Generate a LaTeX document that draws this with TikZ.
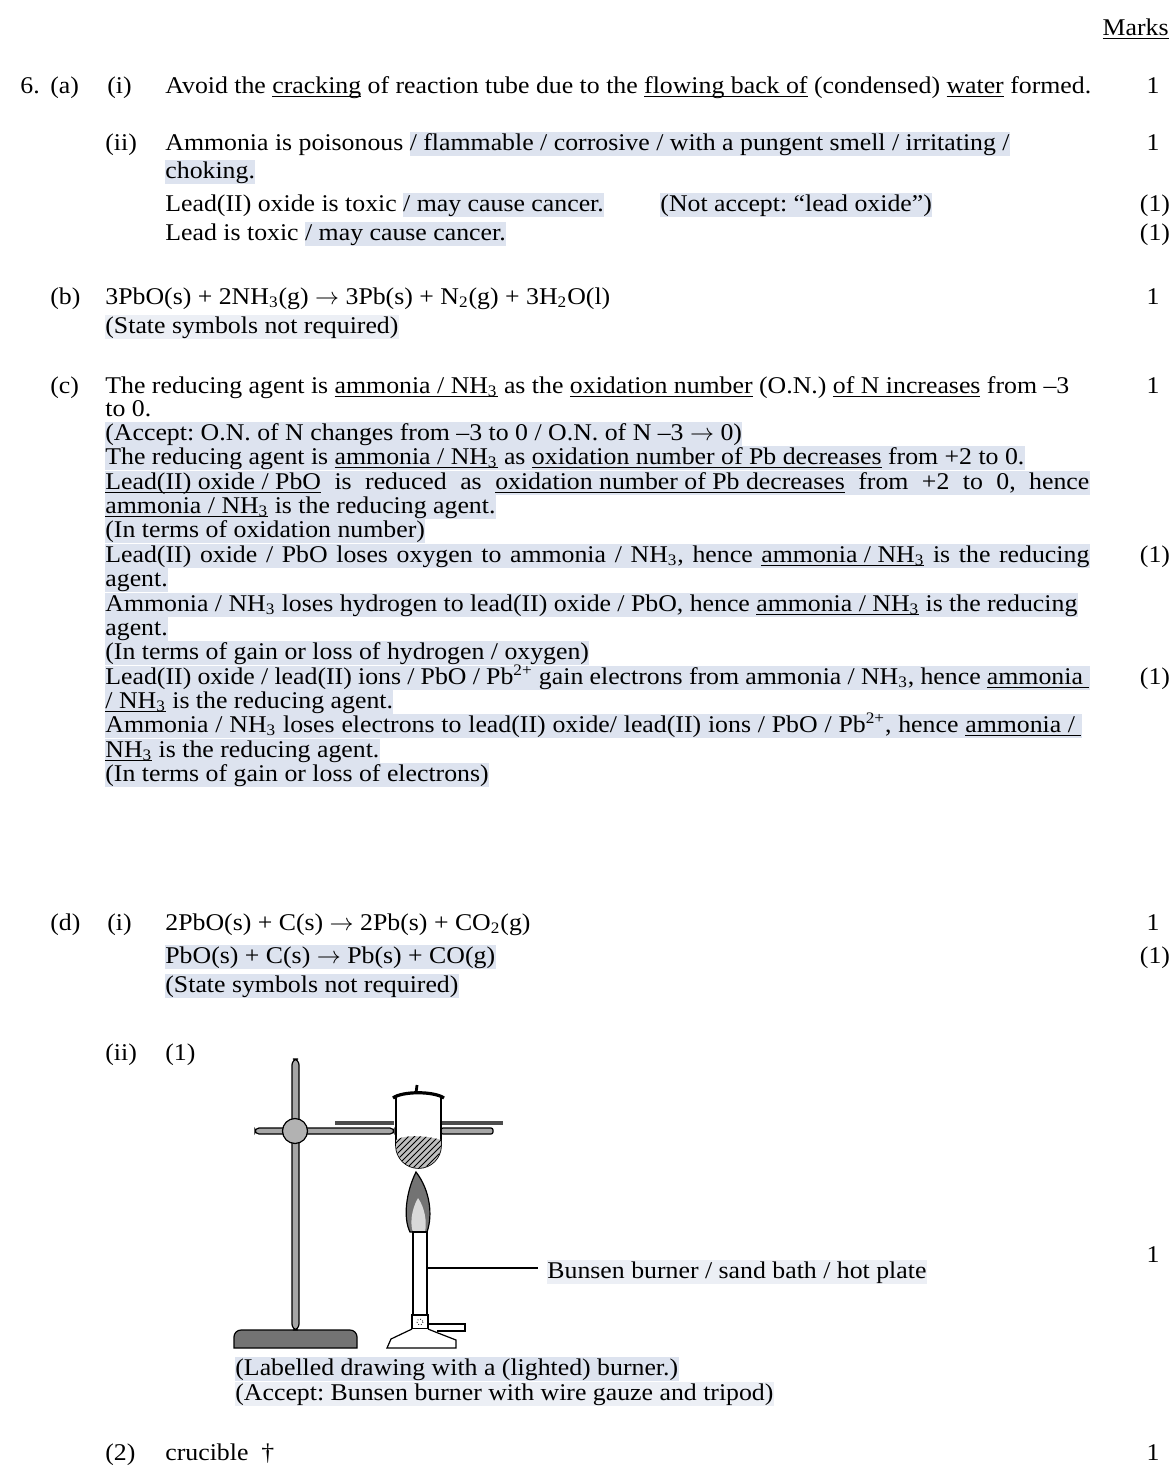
\documentclass[tikz,border=0pt]{standalone}
\usepackage{fontspec}
\setmainfont{Liberation Serif}[FakeStretch=1.075]
\usetikzlibrary{patterns}
\frenchspacing
\definecolor{hlc}{RGB}{221,227,239}
\definecolor{hlb}{RGB}{236,239,245}
\pgfdeclarelayer{bg}
\pgfsetlayers{bg,main}
\newcommand\fsz{\fontsize{12}{14}\selectfont}
\newcommand\hlx[1]{{\setlength{\fboxsep}{0pt}\colorbox{hlc}{\rule[-3pt]{0pt}{12pt}#1}}}
\newsavebox{\ulbox}
\newcommand\ul[1]{\sbox{\ulbox}{#1}\rlap{\rule[-2.2pt]{\wd\ulbox}{0.6pt}}\usebox{\ulbox}}
\newcommand\NHt{NH\textsubscript{3}}
\newcommand\rar{$\rightarrow$}
\newcommand\jl[1]{\makebox[492pt][s]{#1}}
\tikzset{
  tx/.style={anchor=base west, inner sep=0pt, font=\fsz},
  hx/.style={tx, text height=9pt, text depth=3pt},
  mk/.style={anchor=base, inner sep=0pt, font=\fsz},
  part/.style={draw=black, line width=0.6pt},
}
\begin{document}
\begin{tikzpicture}[x=0.5pt,y=-0.5pt]
\useasboundingbox (0,0) rectangle (1171,1467);
\begin{pgfonlayer}{bg}
\fill[white] (0,0) rectangle (1171,1467);
\end{pgfonlayer}

% header
\node[anchor=base east, inner sep=0pt, font=\fsz] (marks) at (1169,35) {\ul{Marks}};

% (a)
\node[tx] (q6) at (20,93) {6.};
\node[tx] (qa) at (50,93) {(a)};
\node[tx] (qai) at (107,93) {(i)};
\node[tx] (a1) at (165,93) {Avoid the \ul{cracking} of reaction tube due to the \ul{flowing back of} (condensed) \ul{water} formed.};
\node[mk] (m1) at (1153,93) {1};

\node[tx] (qaii) at (105,150) {(ii)};
\node[tx] (a2) at (165,150) {Ammonia is poisonous \hlx{/ flammable / corrosive / with a pungent smell / irritating /}};
\node[mk] (m2) at (1153,150) {1};
\node[hx] (a3) at (165,178) {choking.};
\node[tx] (a4) at (165,211) {Lead(II) oxide is toxic \hlx{/ may cause cancer.}};
\node[hx] (a5) at (660,211) {(Not accept: “lead oxide”)};
\node[mk] (m3) at (1155,211) {(1)};
\node[tx] (a6) at (165,240) {Lead is toxic \hlx{/ may cause cancer.}};
\node[mk] (m4) at (1155,240) {(1)};

% (b)
\node[tx] (qb) at (50,304) {(b)};
\node[tx] (b1) at (105,304) {3PbO(s) + 2\NHt(g) \rar\ 3Pb(s) + N\textsubscript{2}(g) + 3H\textsubscript{2}O(l)};
\node[mk] (m5) at (1153,304) {1};
\node[hx] (b2) at (105,333) {(State symbols not required)};

% (c)
\node[tx] (qc) at (50,393) {(c)};
\node[tx] (c1) at (105,393) {The reducing agent is \ul{ammonia / \NHt} as the \ul{oxidation number} (O.N.) \ul{of N increases} from –3};
\node[mk] (m6) at (1153,393) {1};
\node[tx] (c2) at (105,416) {to 0.};
\node[hx] (c3) at (105,440) {(Accept: O.N. of N changes from –3 to 0 / O.N. of N –3 \rar\ 0)};
\node[hx] (c4) at (105,464) {The reducing agent is \ul{ammonia / \NHt} as \ul{oxidation number of Pb decreases} from +2 to 0.};
\node[hx] (c5) at (105,489) {\jl{\ul{Lead(II) oxide / PbO} is reduced as \ul{oxidation number of Pb decreases} from +2 to 0, hence}};
\node[hx] (c6) at (105,513) {\ul{ammonia / \NHt} is the reducing agent.};
\node[hx] (c7) at (105,537) {(In terms of oxidation number)};
\node[hx] (c8) at (105,562) {\jl{Lead(II) oxide / PbO loses oxygen to ammonia / \NHt, hence \ul{ammonia / \NHt} is the reducing}};
\node[mk] (m7) at (1155,562) {(1)};
\node[hx] (c9) at (105,586) {agent.};
\node[hx] (c10) at (105,611) {\makebox[486pt][s]{Ammonia / \NHt\ loses hydrogen to lead(II) oxide / PbO, hence \ul{ammonia / \NHt} is the reducing}};
\node[hx] (c11) at (105,635) {agent.};
\node[hx] (c12) at (105,659) {(In terms of gain or loss of hydrogen / oxygen)};
\node[hx] (c13) at (105,684) {\jl{Lead(II) oxide / lead(II) ions / PbO / Pb\textsuperscript{2+} gain electrons from ammonia / \NHt, hence \ul{ammonia\ }}};
\node[mk] (m8) at (1155,684) {(1)};
\node[hx] (c14) at (105,708) {\ul{/ \NHt} is the reducing agent.};
\node[hx] (c15) at (105,732) {\makebox[488pt][s]{Ammonia / \NHt\ loses electrons to lead(II) oxide/ lead(II) ions / PbO / Pb\textsuperscript{2+}, hence \ul{ammonia /\ }}};
\node[hx] (c16) at (105,757) {\ul{\NHt} is the reducing agent.};
\node[hx] (c17) at (105,781) {(In terms of gain or loss of electrons)};

% (d)
\node[tx] (qd) at (50,930) {(d)};
\node[tx] (qdi) at (107,930) {(i)};
\node[tx] (d1) at (165,930) {2PbO(s) + C(s) \rar\ 2Pb(s) + CO\textsubscript{2}(g)};
\node[mk] (m9) at (1153,930) {1};
\node[hx] (d2) at (165,963) {PbO(s) + C(s) \rar\ Pb(s) + CO(g)};
\node[mk] (m10) at (1155,963) {(1)};
\node[hx] (d3) at (165,992) {(State symbols not required)};
\node[tx] (qdii) at (105,1060) {(ii)};
\node[tx] (qd1) at (165,1060) {(1)};

% ---- apparatus drawing ----
% stand base
\draw[part, fill=black!55] (234,1348) -- (234,1337) to[out=90,in=180] (241,1330) -- (350,1330) to[out=0,in=90] (357,1337) -- (357,1348) -- cycle;
% rod
\draw[part, fill=black!35, rounded corners=3] (292,1330) rectangle (299,1059);
% clamp bar and ring
\draw[part, fill=black!35, rounded corners=2] (255,1128) rectangle (394,1134);
\draw[part, fill=black!35, rounded corners=1] (441,1128) rectangle (493,1134);
% gauze / triangle
\fill[black!70] (335,1121) rectangle (394,1124.5);
\fill[black!70] (441,1121) rectangle (503,1124.5);
% boss
\draw[part, fill=black!30] (295,1131) circle (12.5);
% crucible
\draw[part, fill=white, line width=0.8pt] (396,1097) -- (396,1145.5) arc[start angle=180, end angle=0, radius=22.5] -- (441,1097);
\begin{scope}
  \clip (396,1097) -- (396,1145.5) arc[start angle=180, end angle=0, radius=22.5] -- (441,1097) -- cycle;
  \fill[black!25] (396,1140) .. controls (405,1134) and (430,1136) .. (441,1140) -- (441,1172) -- (396,1172) -- cycle;
  \fill[pattern=north east lines] (396,1140) .. controls (405,1134) and (430,1136) .. (441,1140) -- (441,1172) -- (396,1172) -- cycle;
\end{scope}
% lid
\draw[line width=1.6pt] (393,1098) .. controls (402,1091) and (434,1091) .. (444,1098);
\draw[line width=1.4pt] (416,1093) -- (417,1085);
% burner flame
\draw[part, fill=black!55] (416,1172) .. controls (406,1192) and (403,1218) .. (410,1232) -- (427,1232) .. controls (433,1215) and (430,1190) .. (416,1172) -- cycle;
\fill[black!15] (418,1198) .. controls (411,1210) and (410,1225) .. (413,1232) -- (425,1232) .. controls (427,1222) and (425,1208) .. (418,1198) -- cycle;
% burner tube and collar
\draw[part, fill=white] (413,1232) rectangle (427,1315);
\draw[part, fill=white] (412,1315) rectangle (428,1329);
\draw[densely dotted, line width=0.4pt] (420,1322) circle (3);
% burner base and gas arm
\draw[part, fill=white] (428,1324) -- (465,1324) -- (465,1331) -- (437,1331);
\draw[part, fill=white] (412,1329) -- (391,1339) -- (387,1348) -- (456,1348) -- (456,1340) -- (438,1333) -- (428,1329);
\coordinate (tube) at (427,1268);

% label
\node[hx] (lab) at (547,1278) {Bunsen burner / sand bath / hot plate};
\draw[line width=0.7pt] (tube) -- ([xshift=-4.5pt]lab.west |- tube);
\node[mk] (m11) at (1153,1262) {1};

\node[hx] (cap1) at (235,1375) {(Labelled drawing with a (lighted) burner.)};
\node[hx] (cap2) at (235,1400) {(Accept: Bunsen burner with wire gauze and tripod)};

\node[tx] (q2) at (105,1460) {(2)};
\node[tx] (cr) at (165,1460) {crucible \ †};
\node[mk] (m12) at (1153,1460) {1};

% highlight bands behind text
\begin{pgfonlayer}{bg}
\foreach \n in {a3,a5,c3,c4,c5,c6,c7,c8,c9,c10,c11,c12,c13,c14,c15,c16,c17,d2,d3,cap1}
  \fill[hlc] (\n.south west) rectangle (\n.north east);
\foreach \n in {b2,lab,cap2}
  \fill[hlb] (\n.south west) rectangle (\n.north east);
\end{pgfonlayer}
\end{tikzpicture}
\end{document}
